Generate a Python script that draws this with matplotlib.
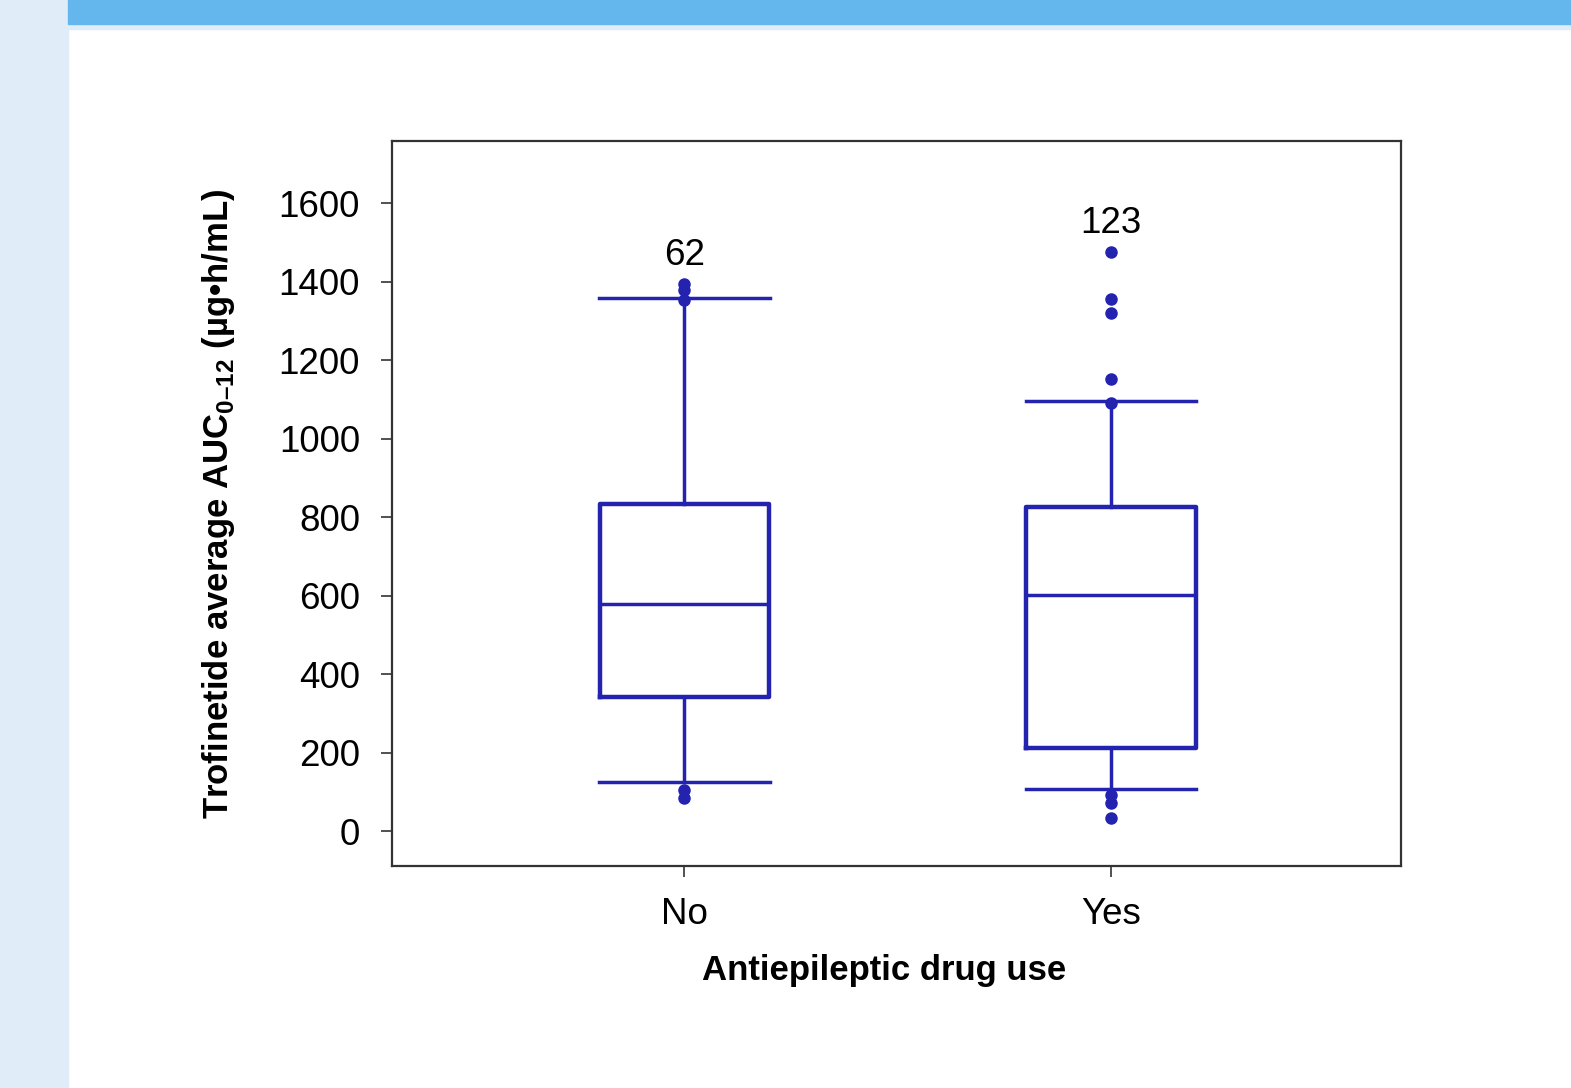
import matplotlib.pyplot as plt
from matplotlib.patches import Rectangle

plt.rcParams['font.family'] = ['Liberation Sans', 'DejaVu Sans']
plt.rcParams['mathtext.fontset'] = 'custom'
plt.rcParams['mathtext.rm'] = 'Liberation Sans'
plt.rcParams['mathtext.bf'] = 'Liberation Sans:bold'

# Datos
groups = ["No", "Yes"]
n_counts = [62, 123]
q1 = [341, 211]
medians = [578, 601]
q3 = [833, 825]
whisker_low = [125, 107]
whisker_high = [1358, 1096]
outliers = [
    [1394, 1378, 1353, 104, 84],
    [1475, 1355, 1320, 1152, 1090, 92, 71, 33],
]

blue = '#2323b0'

stats = []
for i in range(len(groups)):
    stats.append({
        'label': groups[i], 'q1': q1[i], 'med': medians[i], 'q3': q3[i],
        'whislo': whisker_low[i], 'whishi': whisker_high[i], 'fliers': outliers[i],
    })

fig = plt.figure(figsize=(15.71, 10.88), dpi=100)

# fondo de la diapositiva
fig.patches.append(Rectangle((0, 0), 0.0433, 1, transform=fig.transFigure, color='#e0ecf8', zorder=0))
fig.patches.append(Rectangle((0.0433, 1 - 29 / 1088), 1, 29 / 1088, transform=fig.transFigure, color='#e0ecf8', zorder=0))
fig.patches.append(Rectangle((0.0433, 1 - 24 / 1088), 1, 24 / 1088, transform=fig.transFigure, color='#64b7ed', zorder=1))

ax = fig.add_axes([0.2495, 0.2040, 0.6425, 0.6664])
ax.bxp(stats, positions=[1, 2], widths=0.397, capwidths=0.40, showfliers=True,
       boxprops=dict(color=blue, linewidth=3.2),
       medianprops=dict(color=blue, linewidth=2.5),
       whiskerprops=dict(color=blue, linewidth=2.5),
       capprops=dict(color=blue, linewidth=2.5),
       flierprops=dict(marker='o', markerfacecolor=blue, markeredgecolor=blue, markersize=8))

# numero de pacientes sobre cada caja
for i in range(len(groups)):
    ax.annotate(str(n_counts[i]), xy=(i + 1, max(outliers[i])), xytext=(0, 8),
                textcoords='offset points', ha='center', va='bottom', fontsize=26.5)

ax.set_xlim(0.315, 2.68)
ax.set_ylim(-89, 1758)
ax.set_yticks(range(0, 1601, 200))
ax.set_xticks([1, 2])
ax.set_xticklabels(groups)
ax.tick_params(axis='both', labelsize=26.5, length=8, width=1.2, color='#333333')
ax.tick_params(axis='y', pad=15)
ax.tick_params(axis='x', pad=14)
for s in ax.spines.values():
    s.set_color('#333333')
    s.set_linewidth(1.6)

ax.set_xlabel('Antiepileptic drug use', fontsize=25, fontweight='bold')
ax.xaxis.set_label_coords(0.488, -0.121)
ax.set_ylabel('Trofinetide average AUC$_{\\mathbf{0\u201312}}$ (\u00b5g\u2022h/mL)',
              fontsize=25, fontweight='bold', labelpad=30)

plt.savefig('out.png', dpi=100)
